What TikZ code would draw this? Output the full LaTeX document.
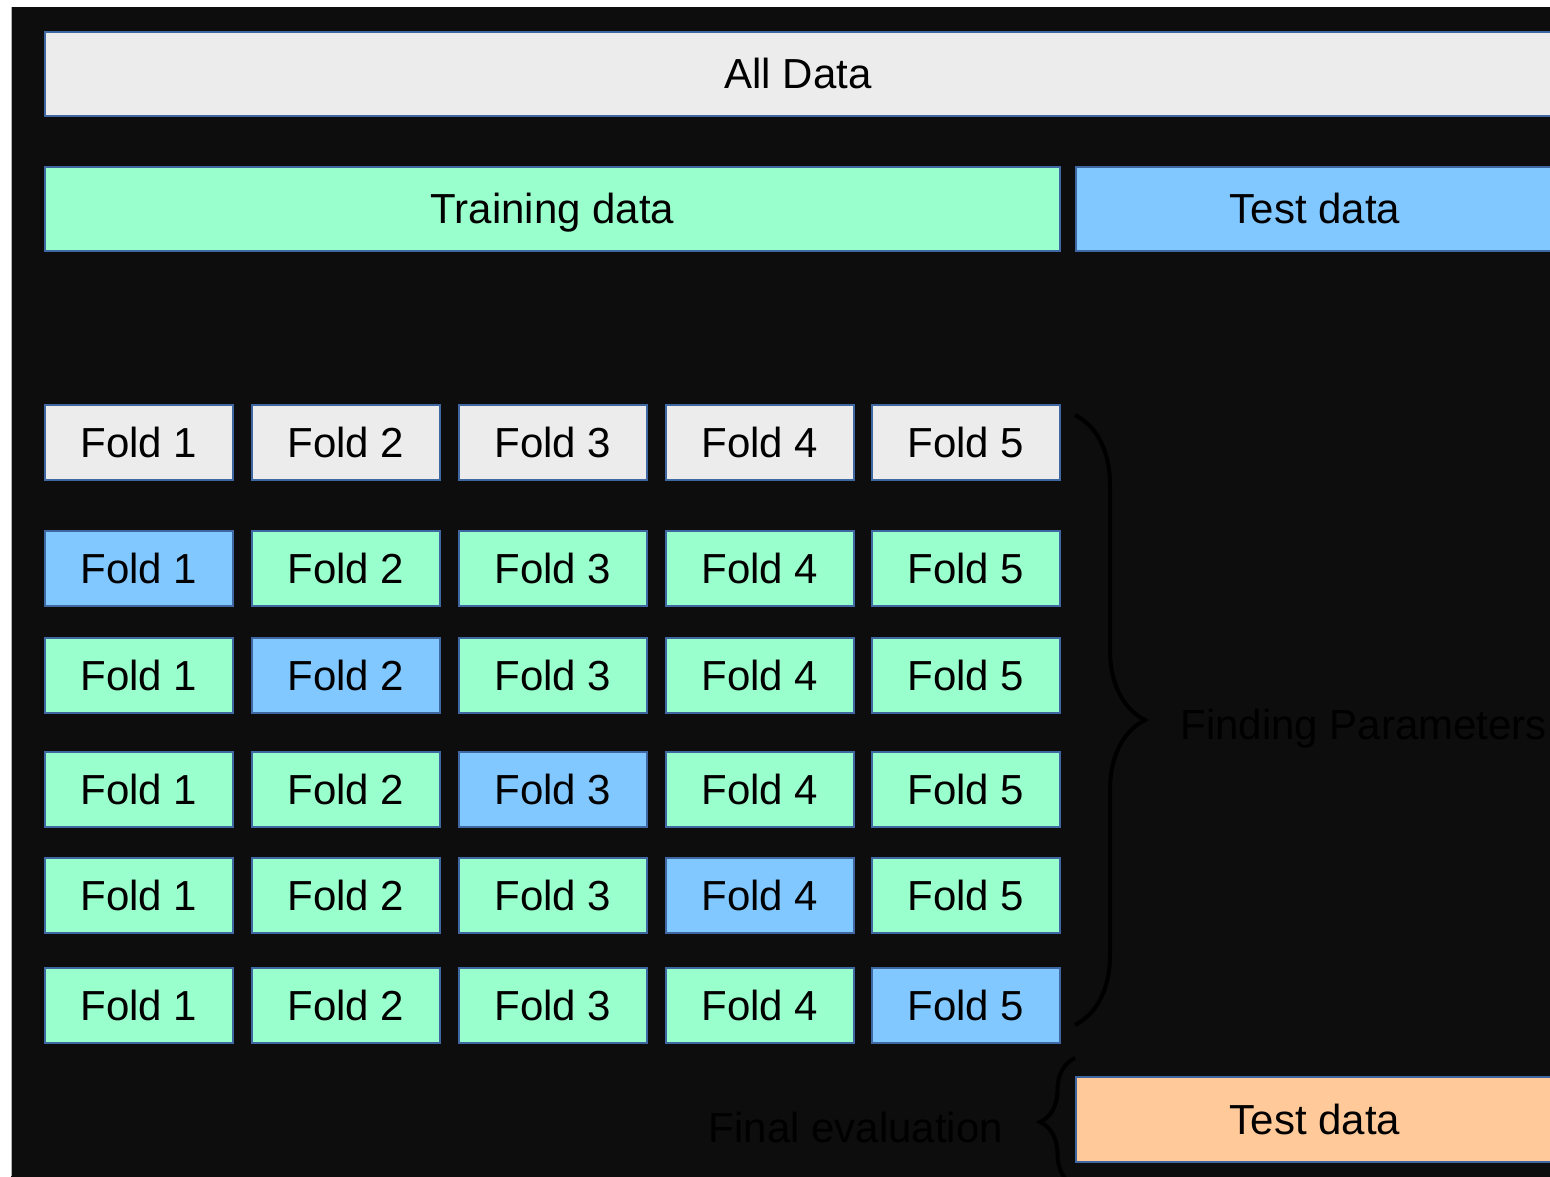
\documentclass[tikz,border=0pt]{standalone}
\usepackage{fontspec}
\setmainfont{Liberation Sans}
\usetikzlibrary{decorations.pathreplacing}
\definecolor{bgdark}{HTML}{0D0D0D}
\definecolor{edgeblue}{HTML}{3F68A3}
\definecolor{greybox}{HTML}{ECECEC}
\definecolor{trainbox}{HTML}{99FFCC}
\definecolor{testbox}{HTML}{80C8FF}
\definecolor{evalbox}{HTML}{FFC999}
\begin{document}
\begin{tikzpicture}[x=0.5pt,y=-0.5pt,
  box/.style={draw=edgeblue, line width=0.8pt, inner sep=0pt,
    font=\fontsize{21}{25}\selectfont, text=black,
    text height=15pt, text depth=0pt},
  widebox/.style={box, minimum height=42pt},
  foldbox/.style={box, minimum width=94pt, minimum height=37.5pt},
  curly/.style={draw=black, line width=2pt,
    decorate, decoration={brace, amplitude=#1}},
  note/.style={font=\fontsize{21}{25}\selectfont, text=black,
    inner sep=0pt, text height=15pt, text depth=0pt}]
\useasboundingbox (0,0) rectangle (1550,1176);
\clip (0,0) rectangle (1550,1176);
% page and dark canvas
\fill[white] (0,0) rectangle (1550,1176);
\fill[bgdark] (11,7) rectangle (1560,1180);
\draw[gray!60, line width=0.4pt] (11,7) -- (11,1176);

% top rows
\node[widebox, fill=greybox, minimum width=753pt] (all) at (798,74) {All Data};
\node[widebox, fill=trainbox, minimum width=507.5pt] (train) at (552.5,209) {Training data};
\node[widebox, fill=testbox, minimum width=239pt] (test) at (1315,209) {Test data};

% fold grid
\foreach \c/\x in {1/139,2/346,3/553,4/760,5/966}{
  \node[foldbox, fill=greybox] (f0\c) at (\x,442.5) {Fold \c};
}
\foreach \r/\y in {1/568.5,2/675.5,3/789.5,4/895.5,5/1005.5}{
  \foreach \c/\x in {1/139,2/346,3/553,4/760,5/966}{
    \ifnum\r=\c
      \node[foldbox, fill=testbox] (f\r\c) at (\x,\y) {Fold \c};
    \else
      \node[foldbox, fill=trainbox] (f\r\c) at (\x,\y) {Fold \c};
    \fi
  }
}

% final evaluation box
\node[box, fill=evalbox, minimum width=239pt, minimum height=42.5pt] (final) at (1315,1119.5) {Test data};

% braces and their labels
\coordinate (bracetop) at (1075,415);
\coordinate (bracebot) at (1075,1025);
\draw[curly=35pt] (bracetop) -- (bracebot);
\node[note, anchor=west] (findpar) at (1180,724) {Finding Parameters};

\coordinate (evalbot) at (1075,1186);
\coordinate (evaltop) at (1075,1058);
\draw[curly=17.5pt] (evalbot) -- (evaltop);
\node[note] (finaleval) at (856,1127) {Final evaluation};
\end{tikzpicture}
\end{document}
